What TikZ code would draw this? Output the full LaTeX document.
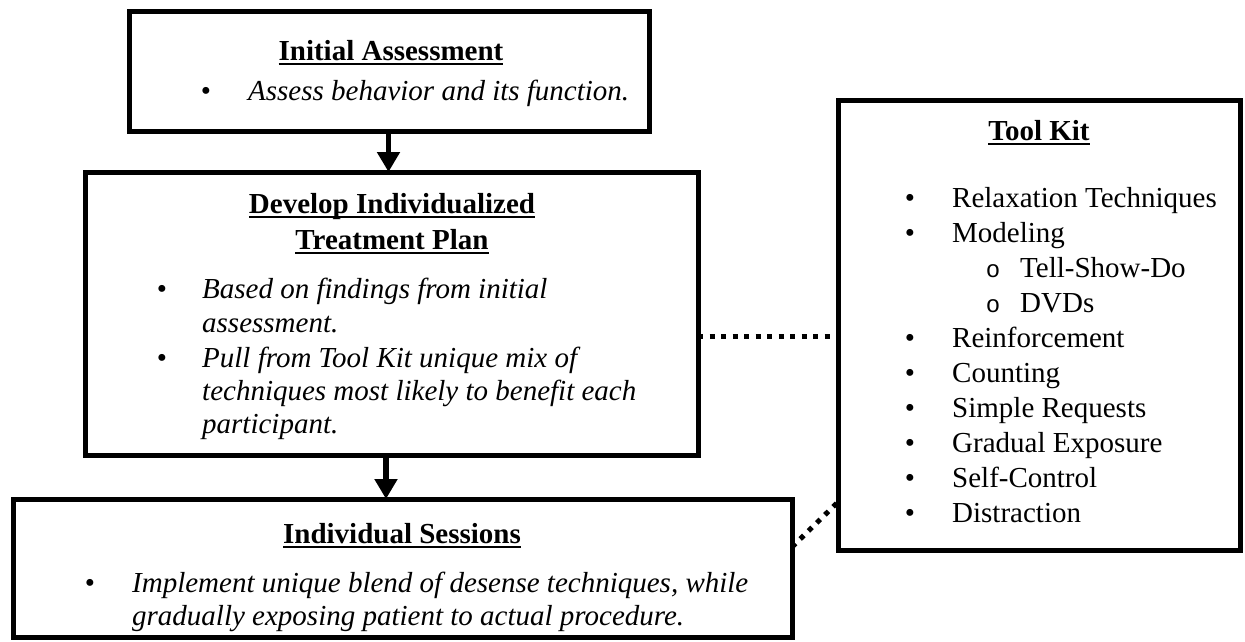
\documentclass[tikz,border=0pt]{standalone}
\usepackage{fontspec}
\setmainfont{Liberation Serif}
\setmonofont{Liberation Mono}
\usetikzlibrary{arrows.meta,calc}
\newcommand\ttlu[1]{\setbox0\hbox{#1}\rlap{\rule[-5pt]{\wd0}{2.2pt}}\box0}
\begin{document}
\begin{tikzpicture}[x=1pt,y=-1pt,
  box/.style={draw,line width=5pt,inner sep=0pt,outer sep=0pt},
  ttl/.style={anchor=base,inner sep=0pt,font=\fontsize{29}{35}\selectfont\bfseries},
  txt/.style={anchor=base west,inner sep=0pt,font=\fontsize{29}{34}\selectfont\itshape},
  itm/.style={anchor=base west,inner sep=0pt,font=\fontsize{29}{35}\selectfont},
  bul/.style={anchor=base,inner sep=0pt,font=\fontsize{29}{35}\selectfont},
  sub/.style={anchor=base,inner sep=0pt,font=\fontsize{24}{35}\ttfamily},
  flow/.style={line width=5.5pt,-{Triangle[width=22pt,length=20pt]}},
  dots/.style={line width=5pt,dash pattern=on 5pt off 6.5pt}
]
\useasboundingbox (0,0) rectangle (1245,641);
\fill[white] (0,0) rectangle (1245,641);

% boxes
\node[box,minimum width=520pt,minimum height=120pt] (init) at (389,71) {};
\node[box,minimum width=613pt,minimum height=283pt] (plan) at (391.5,313.5) {};
\node[box,minimum width=779pt,minimum height=138pt] (sess) at (402.5,568) {};
\node[box,minimum width=402pt,minimum height=450pt] (kit) at (1039,325) {};

% Initial Assessment
\node[ttl] (initT) at (391,60) {\ttlu{Initial Assessment}};
\node[bul] (initB) at (206,100) {•};
\node[txt] (initL1) at (248,100) {Assess behavior and its function.};

% Plan
\node[ttl] (planT1) at (392,213) {\ttlu{Develop Individualized}};
\node[ttl] (planT2) at (392,249) {\ttlu{Treatment Plan}};
\node[bul] (planB1) at (162,298) {•};
\node[txt] (planL1) at (202,298) {Based on findings from initial};
\node[txt] (planL2) at (202,332) {assessment.};
\node[bul] (planB2) at (162,367) {•};
\node[txt] (planL3) at (202,367) {Pull from Tool Kit unique mix of};
\node[txt] (planL4) at (202,400) {techniques most likely to benefit each};
\node[txt] (planL5) at (202,433) {participant.};

% Sessions
\node[ttl] (sessT) at (402,543) {\ttlu{Individual Sessions}};
\node[bul] (sessB) at (90,592) {•};
\node[txt] (sessL1) at (132,592) {Implement unique blend of desense techniques, while};
\node[txt] (sessL2) at (132,625) {gradually exposing patient to actual procedure.};

% Tool Kit
\node[ttl] (kitT) at (1039,140) {\ttlu{Tool Kit}};
\foreach \y/\t in {207/Relaxation Techniques,242/Modeling,347/Reinforcement,382/Counting,417/Simple Requests,452/Gradual Exposure,487/Self-Control,522/Distraction}{
  \node[bul] at (910,\y) {•};
  \node[itm] at (952,\y) {\t};
}
\foreach \y/\t in {277/Tell-Show-Do,312/DVDs}{
  \node[sub] at (993,\y) {o};
  \node[itm] at (1020,\y) {\t};
}

% connectors
\draw[flow] ([xshift=-0.5pt]init.south) -- ([xshift=-0.5pt]init.south |- plan.north);
\draw[flow] ([xshift=-5.5pt]plan.south) -- ([xshift=-5.5pt]plan.south |- sess.north);
\draw[dots] ([yshift=-22.5pt]plan.east) -- ([yshift=-11pt]kit.west);
\draw[dots] ([yshift=21pt]sess.east) -- ([yshift=-177pt]kit.west);
\end{tikzpicture}
\end{document}
